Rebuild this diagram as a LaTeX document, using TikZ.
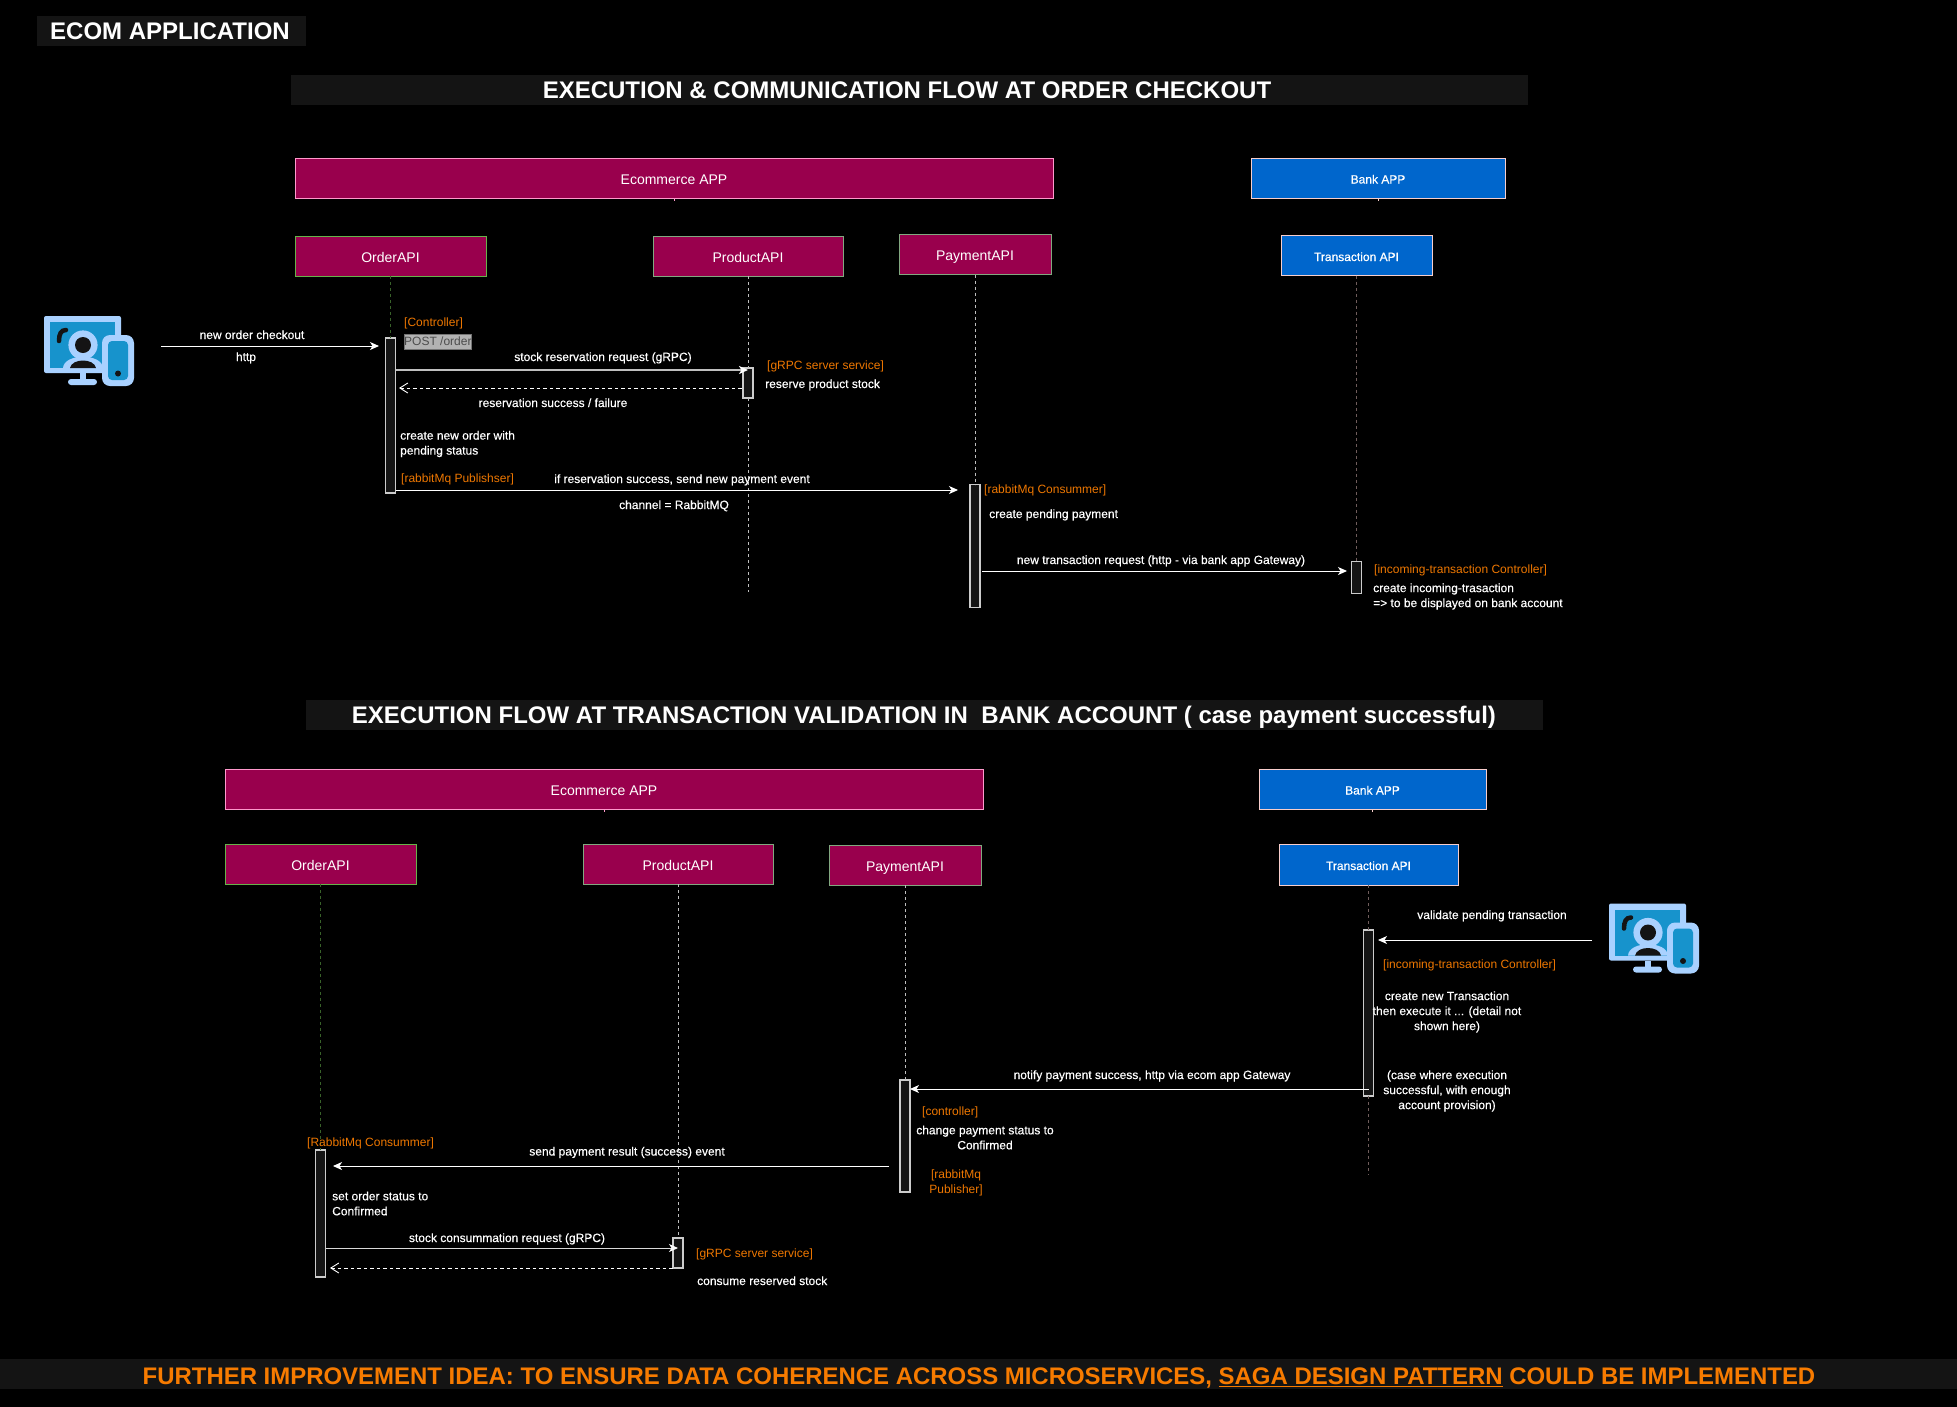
\documentclass[tikz,border=0pt]{standalone}
\usepackage{fontspec}
\setmainfont{Liberation Sans}
\newfontfamily\labelfont[FakeBold=0.35]{Liberation Sans}
\usetikzlibrary{positioning, arrows.meta}

\definecolor{ecomfill}{HTML}{99004D}
\definecolor{bankfill}{HTML}{0066CC}
\definecolor{ecomline}{HTML}{FF99CC}
\definecolor{bankline}{HTML}{F8CECC}
\definecolor{greenline}{HTML}{66B34A}
\definecolor{sageline}{HTML}{82A880}
\definecolor{tagorange}{HTML}{EE7700}
\definecolor{bandfill}{HTML}{141414}
\definecolor{iconlight}{HTML}{A9D1FF}
\definecolor{iconblue}{HTML}{1793CC}
\definecolor{iconink}{HTML}{141414}

\begin{document}
\begin{tikzpicture}[
  x=1pt, y=-1pt,
  >={Stealth[length=9pt, width=8pt, inset=2.5pt, color=white]},
  box/.style      = {draw, line width=1pt, inner sep=0pt, outer sep=0pt, text=white, minimum height=40pt, text depth=0pt},
  ecombox/.style  = {box, fill=ecomfill, text height=12pt, font=\fontsize{14}{16}\selectfont},
  bankbox/.style  = {box, fill=bankfill, draw=bankline, text height=11pt, font=\labelfont\fontsize{12}{15}\selectfont},
  act/.style      = {draw=white!80!black, fill=iconink, line width=1.3pt, inner sep=0pt, outer sep=0pt, minimum width=10pt},
  life/.style     = {dash pattern=on 3pt off 3pt, line width=1pt, white!75!black},
  lifeorder/.style= {life, line width=1.3pt, greenline!55!black},
  lifebank/.style = {life, line width=1.5pt, bankline!45!black},
  msg/.style      = {->, white, line width=1pt},
  reply/.style    = {white, line width=1pt, dash pattern=on 3.5pt off 3pt, {Straight Barb[length=8pt, width=10pt, line width=0.9pt]}-},
  lbl/.style      = {text=white, font=\labelfont\fontsize{12}{15}\selectfont, inner sep=0pt, anchor=base west, yshift=-4pt},
  lblc/.style     = {lbl, anchor=base},
  lblm/.style     = {text=white, font=\labelfont\fontsize{12}{15}\selectfont, inner sep=0pt, align=center},
  tag/.style      = {lbl, text=tagorange, font=\fontsize{12}{15}\selectfont},
  band/.style     = {fill=bandfill, inner sep=0pt, outer sep=0pt, text=white, font=\fontsize{24}{28}\bfseries\selectfont},
  deviceicon/.pic = {
    \fill[iconlight, rounded corners=2pt] (0,0) rectangle (77,57);
    \fill[iconblue] (6,6) rectangle (71,52);
    \fill[iconlight] (36,57) rectangle (42,64);
    \fill[iconlight, rounded corners=3pt] (24,63) rectangle (53,69);
    \draw[iconink, line width=4.5pt, line cap=round] (15,25) .. controls (15,18) and (17,14) .. (22,14);
    \fill[iconlight] (19,52) .. controls (20,37) and (58,37) .. (59,52) -- cycle;
    \fill[iconlight] (39,29) circle (14.6pt);
    \fill[iconink] (39,29) circle (8pt);
    \fill[iconink] (26,52) .. controls (28,42) and (50,42) .. (52,52) -- cycle;
    \fill[iconlight, rounded corners=8pt] (58,19) rectangle (90,70);
    \fill[iconblue, rounded corners=4pt] (64,25) rectangle (84,64);
    \fill[iconink] (74,57.5) circle (3pt);
  },
]
  \path[use as bounding box] (0,0) rectangle (1957,1406);
  \fill[black] (-3,-3) rectangle (1960,1409);

  \node[band, minimum width=269pt, minimum height=30pt, anchor=north west] (apptitle) at (37,16) {};
  \node[lbl, font=\fontsize{24}{28}\bfseries\selectfont] (apptext) at (50,35) {ECOM APPLICATION};
  \node[band, minimum width=1237pt, minimum height=30pt, anchor=north west] (flowband) at (291,75) {};
  \node[band, fill=none, anchor=center] (flowtitle) at (907,90) {EXECUTION \& COMMUNICATION FLOW AT ORDER CHECKOUT};
  \node[band, minimum width=1237pt, minimum height=30pt, anchor=north west] (bankband) at (306,700) {};
  \node[band, fill=none, anchor=center] (banktitle) at (924,717) {EXECUTION FLOW AT TRANSACTION VALIDATION IN\ \ BANK ACCOUNT ( case payment successful)};
  \node[band, minimum width=1957pt, minimum height=30pt, anchor=north west] (ideaband) at (0,1359) {};
  \node[band, fill=none, text=orange!50!tagorange, font=\fontsize{23.95}{28}\bfseries\selectfont, anchor=center] (ideatitle) at (979,1378) {FURTHER IMPROVEMENT IDEA:\ TO ENSURE DATA COHERENCE ACROSS MICROSERVICES, \underline{SAGA DESIGN PATTERN} COULD BE IMPLEMENTED};

  \node[ecombox, draw=ecomline, minimum width=758pt, anchor=north west] (ecomTop) at (295,158) {Ecommerce APP};
  \node[ecombox, draw=greenline, minimum width=191pt, anchor=north west] (orderTop) at (295,236) {OrderAPI};
  \node[ecombox, draw=sageline, minimum width=190pt, right=167pt of orderTop] (productTop) {ProductAPI};
  \node[ecombox, draw=sageline, minimum width=152pt, right=56pt of productTop, yshift=1.5pt] (paymentTop) {PaymentAPI};
  \node[bankbox, minimum width=254pt, anchor=north west] (bankTop) at (1251,158) {Bank APP};
  \node[bankbox, minimum width=151pt, anchor=north west] (transTop) at (1281,235.5) {Transaction API};

  \node[act, minimum height=155pt, below=62pt of orderTop] (orderAct) {};
  \node[act, minimum height=30pt, below=92pt of productTop] (productAct) {};
  \node[act, minimum height=123pt, below=210pt of paymentTop] (paymentAct) {};
  \node[act, minimum height=32pt, below=286pt of transTop] (transAct) {};
  \coordinate (productEnd) at (productTop.south |- 0,592);

  \draw[lifeorder] (orderTop.south) -- (orderAct.north);
  \draw[life] (productTop.south) -- (productAct.north);
  \draw[life] (productAct.south) -- (productEnd);
  \draw[life] (paymentTop.south) -- (paymentAct.north);
  \draw[lifebank] (transTop.south) -- (transAct.north);
  \draw[ecomline] (ecomTop.south) -- ++(0,3);
  \draw[bankline] (bankTop.south) -- ++(0,3);

  \pic at (44,316) {deviceicon};
  \coordinate (checkoutStart) at (161,346);
  \draw[msg] (checkoutStart) -- (379,346);
  \node[lblc] (checkoutText) at (252,335) {new order checkout};
  \node[lblc] (httpText) at (246,357) {http};

  \node[tag] (controllerTag) at (404,322) {[Controller]};
  \node[draw=black!55, fill=black!30, text=black!70, font=\fontsize{12}{15}\selectfont, inner sep=0pt, minimum width=67pt, minimum height=15pt, anchor=north west] (postTag) at (404,334) {POST /order};
  \draw[msg, white!75!black, line width=1.6pt] (orderAct.east |- 0,370) -- (productAct.north |- 0,370);
  \node[lblc] (stockText) at (603,357) {stock reservation request (gRPC)};
  \draw[reply] (399,388) -- (productAct.west |- 0,388);
  \node[lblc] (failText) at (553,403) {reservation success / failure};
  \node[tag] (grpcTag) at (767,365) {[gRPC server service]};
  \node[lbl] (reserveText) at (765,384) {reserve product stock};
  \node[lblm, align=left, anchor=west] (newOrderText) at (400,444) {create new order with\\pending status};
  \node[tag] (publisherTag) at (401,478) {[rabbitMq Publishser]};
  \draw[msg] (orderAct.east |- 0,490) -- (958,490);
  \node[lblc] (ifText) at (682,479) {if reservation success, send new payment event};
  \node[lblc] (channelText) at (674,505) {channel = RabbitMQ};
  \node[tag] (consumerTag) at (984,489) {[rabbitMq Consummer]};
  \node[lbl] (pendingText) at (989,514) {create pending payment};
  \draw[msg] (982,571) -- (1347,571);
  \node[lblc] (newTransText) at (1161,560) {new transaction request (http - via bank app Gateway)};
  \node[tag] (incomingTag) at (1374,569) {[incoming-transaction Controller]};
  \node[lblm, align=left, anchor=west] (incomingText) at (1373,596.5) {create incoming-trasaction\\=> to be displayed on bank account};

  \node[ecombox, draw=ecomline, minimum width=758pt, anchor=north west] (ecomBot) at (225,769) {Ecommerce APP};
  \node[ecombox, draw=greenline, minimum width=191pt, anchor=north west] (orderBot) at (225,844) {OrderAPI};
  \node[ecombox, draw=sageline, minimum width=190pt, right=167pt of orderBot] (productBot) {ProductAPI};
  \node[ecombox, draw=sageline, minimum width=152pt, right=56pt of productBot, yshift=-1pt] (paymentBot) {PaymentAPI};
  \node[bankbox, minimum width=227pt, anchor=north west] (bankBot) at (1259,769) {Bank APP};
  \node[bankbox, minimum width=179pt, minimum height=41pt, anchor=north west] (transBot) at (1279,844) {Transaction API};

  \node[act, minimum height=127pt, below=266pt of orderBot] (orderBotAct) {};
  \node[act, minimum height=30pt, below=354pt of productBot] (productBotAct) {};
  \node[act, minimum height=112pt, below=195pt of paymentBot] (paymentBotAct) {};
  \node[act, minimum height=166pt, below=45pt of transBot] (transBotAct) {};
  \coordinate (transEnd) at (transBot.south |- 0,1175);

  \draw[lifeorder] (orderBot.south) -- (orderBotAct.north);
  \draw[life] (productBot.south) -- (productBotAct.north);
  \draw[life] (paymentBot.south) -- (paymentBotAct.north);
  \draw[lifebank] (transBot.south) -- (transBotAct.north);
  \draw[lifebank] (transBotAct.south) -- (transEnd);
  \draw[ecomline] (ecomBot.south) -- ++(0,3);
  \draw[bankline] (bankBot.south) -- ++(0,3);

  \pic at (1609,903.5) {deviceicon};
  \coordinate (validateStart) at (1592,940);
  \draw[msg] (validateStart) -- (1378,940);
  \node[lblc] (validateText) at (1492,915) {validate pending transaction};
  \node[tag] (incomingBotTag) at (1383,964) {[incoming-transaction Controller]};
  \node[lblm] (executeText) at (1447,1012) {create new Transaction\\then execute it ... (detail not\\shown here)};
  \node[lblm] (caseText) at (1447,1091) {(case where execution\\successful, with enough\\account provision)};
  \draw[msg] (transBotAct.center |- 0,1089) -- (910,1089);
  \node[lblc] (notifyText) at (1152,1075) {notify payment success, http via ecom app Gateway};
  \node[tag] (controllerBotTag) at (922,1111) {[controller]};
  \node[lblm] (statusText) at (985,1137.5) {change payment status to\\Confirmed};
  \node[lblm, text=tagorange, font=\fontsize{12}{15}\selectfont] (publisherBotTag) at (956,1183) {[rabbitMq\\Publisher]};
  \draw[msg] (889,1166) -- (333,1166);
  \node[lblc] (resultText) at (627,1151.5) {send payment result (success) event};
  \node[tag] (consumerBotTag) at (307,1142) {[RabbitMq Consummer]};
  \node[lblm, align=left, anchor=west] (orderStatusText) at (332,1203.5) {set order status to\\Confirmed};
  \draw[msg, white!85!black] (orderBotAct.east |- 0,1248) -- (productBotAct.center |- 0,1248);
  \node[lblc] (consumeReqText) at (507,1238) {stock consummation request (gRPC)};
  \draw[reply] (330,1268) -- (productBotAct.west |- 0,1268);
  \node[tag] (grpcBotTag) at (696,1253) {[gRPC server service]};
  \node[lbl] (consumeText) at (697,1281) {consume reserved stock};
\end{tikzpicture}
\end{document}
